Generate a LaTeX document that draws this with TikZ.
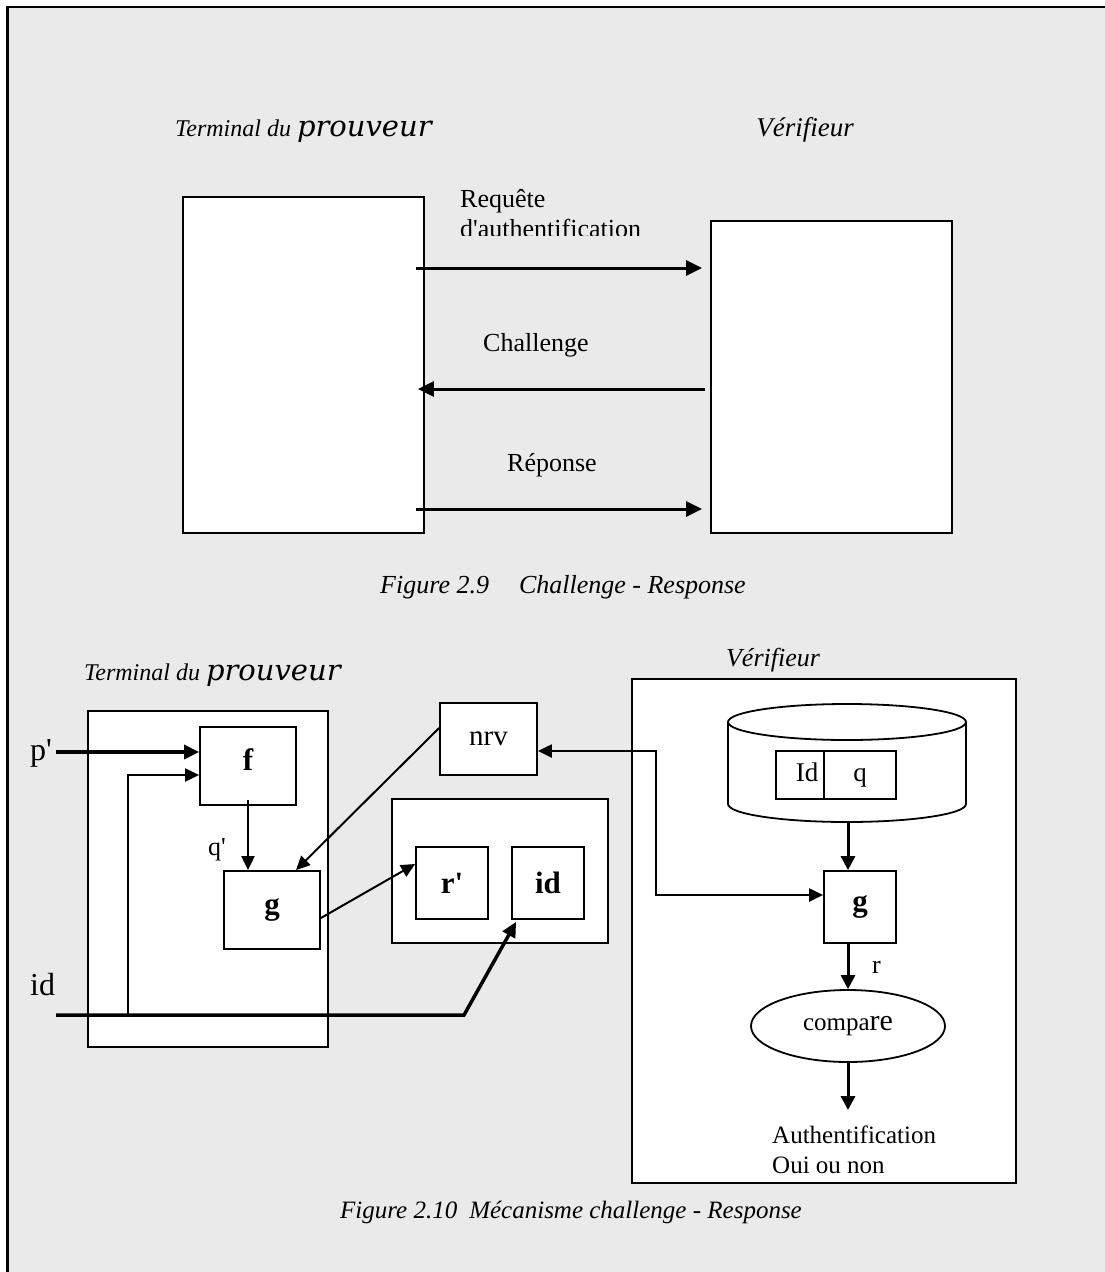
\documentclass[tikz,border=0pt]{standalone}
\usepackage{fontspec}
\setmainfont{Liberation Serif}
\newfontfamily\wideserif{DejaVu Serif}
\usetikzlibrary{arrows.meta,shapes.geometric,calc}

\definecolor{paper}{HTML}{EAEAEA}
\newcommand{\tick}{\textquotesingle}

\begin{document}
\begin{tikzpicture}[x=1pt,y=-1pt,
  panel/.style={draw, fill=white, line width=1.8pt, inner sep=0pt},
  msg/.style={inner sep=0pt, font=\fontsize{26}{30}\selectfont},
  small/.style={inner sep=0pt, font=\fontsize{25}{30}\selectfont},
  cellfont/.style={font=\fontsize{27}{30}\selectfont, text height=18pt, text depth=6pt},
  bigfont/.style={inner sep=0pt, font=\fontsize{32}{34}\selectfont},
  boldfont/.style={font=\fontsize{31}{34}\selectfont\bfseries},
  titlefont/.style={inner sep=0pt, font=\fontsize{24}{28}\selectfont\itshape},
  capfont/.style={inner sep=0pt, font=\fontsize{25}{30}\selectfont\itshape},
  flow/.style={line width=3pt, -{Triangle[length=16pt,width=15pt]}},
  thinflow/.style={line width=2pt, -{Triangle[length=14pt,width=13pt]}},
  thickflow/.style={line width=3.5pt, -{Triangle[length=15pt,width=14pt]}},
  vflow/.style={line width=3pt, -{Triangle[length=14pt,width=14pt]}},
  bothflow/.style={line width=2.2pt, {Triangle[length=14pt,width=13pt]}-{Triangle[length=14pt,width=13pt]}}
]
\useasboundingbox (0,0) rectangle (1105,1272);
% page and frame
\fill[white] (0,0) rectangle (1105,1272);
\fill[paper] (7,7) rectangle (1105,1272);
\draw[line width=2.4pt] (7.3,1272) -- (7.3,7) -- (1105,7);

% ---------- Figure 2.9 ----------
\node[titlefont, anchor=base west] (proverTop) at (175,136)
  {Terminal du {\wideserif\fontsize{29}{30}\selectfont prouveur}};
\node[titlefont, font=\fontsize{27}{28}\selectfont\itshape, anchor=base] (verifTop) at (805,136) {Vérifieur};

\node[panel, minimum width=241pt, minimum height=336pt] (proverBox) at (303.5,365) {};
\node[panel, minimum width=241pt, minimum height=312pt] (verifBox) at (831.5,377) {};

\node[msg, anchor=base west] (request) at (460,207) {Requête};
\begin{scope}
  \clip (440,212) rectangle (700,235);
  \node[msg, anchor=base west] (requestB) at (460,237) {d\tick authentification};
\end{scope}

\draw[flow] ($(proverBox.east |- 0,268)+(-9,0)$) -- ($(verifBox.west |- 0,268)+(-8,0)$);
\node[msg, anchor=base west] (challenge) at (483,351) {Challenge};
\draw[flow] ($(verifBox.west |- 0,389)+(-5,0)$) -- ($(proverBox.east |- 0,389)+(-7,0)$);
\node[msg, anchor=base west] (answer) at (507,471) {Réponse};
\draw[flow] ($(proverBox.east |- 0,509)+(-9,0)$) -- ($(verifBox.west |- 0,509)+(-8,0)$);

\node[capfont, font=\fontsize{26}{30}\selectfont\itshape, anchor=base] (cap1) at (563,593)
  {Figure 2.9\hspace{30pt}Challenge - Response};

% ---------- Figure 2.10 : prover ----------
\node[titlefont, anchor=base west] (proverBot) at (84,680)
  {Terminal du {\wideserif\fontsize{29}{30}\selectfont prouveur}};
\node[panel, minimum width=240pt, minimum height=336pt] (proverUnit) at (208,879) {};
\node[panel, boldfont, text height=8pt, text depth=0pt, minimum width=96pt, minimum height=78pt] (fFun) at (248,766) {f};
\node[panel, boldfont, minimum width=96pt, minimum height=78pt] (gFun) at (272,910) {g};
\node[panel, msg, font=\fontsize{29}{30}\selectfont, minimum width=97pt, minimum height=72pt] (nonce) at (488.5,739) {nrv\hspace{16pt}};
\node[panel, minimum width=216pt, minimum height=144pt] (respPack) at (500,871) {};
\node[panel, boldfont, minimum width=72pt, minimum height=72pt] (rResp) at (452,883) {r\tick};
\node[panel, boldfont, minimum width=72pt, minimum height=72pt] (idResp) at (548,883) {id};

\node[bigfont, anchor=base west] (pLbl) at (30,760) {p\tick};
\node[bigfont, anchor=base west] (idLbl) at (30,995) {id};
\node[msg, anchor=base west] (qLbl) at (208,855) {q\tick};

\coordinate (pIn) at (56,752);
\coordinate (idIn) at (56,1015);
\coordinate (bend) at (464,1015);
\coordinate (branch) at (128,1015);

\draw[thickflow] (pIn) -- (pIn -| fFun.west);
\draw[thinflow] (branch) |- ($(fFun.west)+(0,9)$);
\draw[thickflow] (idIn) -- (bend) -- ($(idResp.south west)+(5,2)$);
\draw[thinflow] ($(fFun.south)+(0,-6)$) -- (gFun.north -| fFun.south);
\draw[thinflow] (nonce.west |- 0,728) -- (gFun.north -| 296,0);
\draw[thinflow] (gFun.east |- 0,918) -- (rResp.west |- 0,864);

% ---------- Figure 2.10 : verifier ----------
\node[titlefont, font=\fontsize{26}{28}\selectfont\itshape, anchor=base] (verifBot) at (773,666) {Vérifieur};
\node[panel, minimum width=384pt, minimum height=504pt] (verifUnit) at (824,931) {};

% database cylinder
\fill[white] (847,804) ellipse [x radius=119pt, y radius=18pt];
\fill[white] (728,722) rectangle (966,804);
\fill[white] (847,722) ellipse [x radius=119pt, y radius=18pt];
\begin{scope}
  \clip (700,804) rectangle (1000,830);
  \draw[line width=1.8pt] (847,804) ellipse [x radius=119pt, y radius=18pt];
\end{scope}
\draw[line width=1.8pt] (728,722) -- (728,804) (966,722) -- (966,804);
\draw[line width=1.8pt] (847,722) ellipse [x radius=119pt, y radius=18pt];

\node[panel, cellfont, minimum width=48pt, minimum height=48pt] (idCell) at (800,775) {\hspace{14pt}Id};
\node[panel, cellfont, minimum width=72pt, minimum height=48pt] (qCell) at (860,775) {q\hspace{18pt}};

\node[panel, boldfont, minimum width=72pt, minimum height=72pt] (gVer) at (860,907) {g};
\coordinate (dbBase) at (848,823);
\draw[vflow] (dbBase) -- (dbBase |- gVer.north);

\node[ellipse, draw, fill=white, line width=1.8pt, inner sep=0pt,
      minimum width=194pt, minimum height=72pt] (cmp) at (848,1026)
  {{\fontsize{25}{30}\selectfont compa}{\fontsize{30}{30}\selectfont re}};
\draw[vflow] (gVer.south -| dbBase) -- (cmp.north);
\node[msg, anchor=base west] (rLbl) at (872,973) {r};

\coordinate (verdict) at (848,1110);
\draw[vflow] (cmp.south) -- (verdict);
\node[small, anchor=base west] (authA) at (772,1143) {Authentification};
\node[small, anchor=base west] (authB) at (772,1173) {Oui ou non};

\draw[bothflow] (nonce.east |- 0,751) -- (656,751) -- (656,895) -- (gVer.west |- 0,895);

\node[capfont, anchor=base] (cap2) at (571,1218) {Figure 2.10\hspace{12pt}Mécanisme challenge - Response};
\end{tikzpicture}
\end{document}
